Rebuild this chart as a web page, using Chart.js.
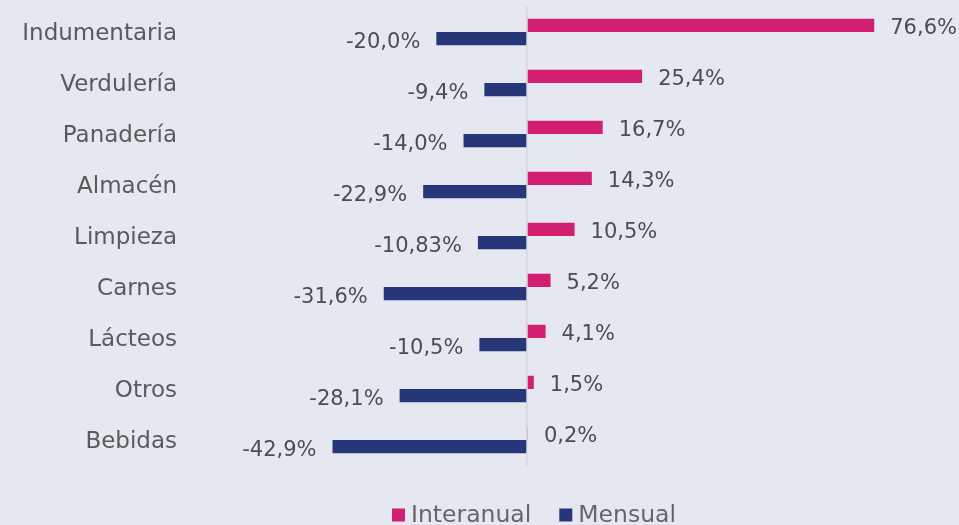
<!DOCTYPE html>
<html><head><meta charset="utf-8">
<script src="https://cdn.jsdelivr.net/npm/chart.js@4"></script>
<style>html,body{margin:0;padding:0;background:#e5e8f0;}#wrap{width:959px;height:525px;}</style>
</head><body><div id="wrap"><canvas id="c" width="959" height="525"></canvas></div>
<script>
const categories = ["Indumentaria","Verdulería","Panadería","Almacén","Limpieza","Carnes","Lácteos","Otros","Bebidas"];
const interanual = [76.6,25.4,16.7,14.3,10.5,5.2,4.1,1.5,0.2];
const mensual = [-20.0,-9.4,-14.0,-22.9,-10.83,-31.6,-10.5,-28.1,-42.9];
const interanualLabels = ["76,6%","25,4%","16,7%","14,3%","10,5%","5,2%","4,1%","1,5%","0,2%"];
const mensualLabels = ["-20,0%","-9,4%","-14,0%","-22,9%","-10,83%","-31,6%","-10,5%","-28,1%","-42,9%"];
const FONT = "'DejaVu Sans', sans-serif";
const labelPlugin = {
  id:'vals',
  afterDatasetsDraw(chart){
    const ctx = chart.ctx;
    ctx.save();
    ctx.font = "21px " + FONT;
    ctx.fillStyle = "#4d4d4d";
    ctx.textBaseline = "middle";
    const sets = [interanualLabels, mensualLabels];
    chart.data.datasets.forEach((ds,di)=>{
      chart.getDatasetMeta(di).data.forEach((bar,i)=>{
        const v = ds.data[i];
        if(v>=0){ctx.textAlign="left";ctx.fillText(sets[di][i], bar.x+16, bar.y+3);}
        else {ctx.textAlign="right";ctx.fillText(sets[di][i], bar.x-16, bar.y+4);}
      });
    });
    // legend
    ctx.font = "23.5px " + FONT;
    ctx.textAlign = "left";
    const items = chart.data.datasets.map(d=>({t:d.label,c:d.backgroundColor,w:ctx.measureText(d.label).width}));
    const box=13, gapBT=6, gapItems=28;
    let total = items.reduce((s,it)=>s+box+gapBT+it.w,0)+gapItems*(items.length-1);
    let x = 534 - total/2; const y = 515;
    items.forEach(it=>{
      ctx.fillStyle = it.c; ctx.fillRect(x, y-6.5, box, box);
      x += box+gapBT;
      ctx.fillStyle = "#666"; ctx.fillText(it.t, x, y+1);
      x += it.w + gapItems;
    });
    ctx.restore();
  }
};
new Chart(document.getElementById('c'),{
  type:'bar',
  data:{labels:categories,datasets:[
    {label:'Interanual',data:interanual,backgroundColor:'#d31f71',borderWidth:0},
    {label:'Mensual',data:mensual,backgroundColor:'#273679',borderWidth:0}
  ]},
  options:{
    indexAxis:'y',responsive:false,animation:false,
    layout:{padding:{top:6.5,right:24,bottom:59.5,left:0}},
    categoryPercentage:0.52,barPercentage:1,
    scales:{
      x:{min:-75,max:90,ticks:{display:false},border:{display:false},
         grid:{color:(c)=>c.tick && c.tick.value===0?'#d3d6de':'rgba(0,0,0,0)',lineWidth:1.5,drawTicks:false},
         afterFit(s){s.height=0;s.paddingLeft=0;s.paddingRight=0;}},
      y:{grid:{display:false,drawTicks:false},border:{display:false},
         ticks:{color:'#5a5a5a',font:{family:FONT,size:23},padding:10,labelOffset:2},
         afterFit(s){s.width=187;s.paddingTop=0;s.paddingBottom=0;}}
    },
    plugins:{
      legend:{display:false},
      tooltip:{enabled:false}
    }
  },
  plugins:[labelPlugin]
});
</script></body></html>
